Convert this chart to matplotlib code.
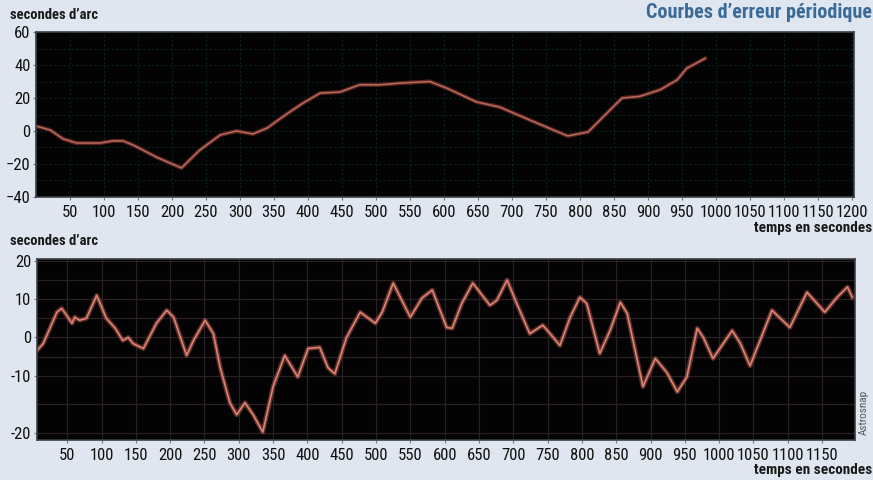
import numpy as np
import matplotlib
matplotlib.use("Agg")
import matplotlib.pyplot as plt
from matplotlib import font_manager as fm
from matplotlib.ticker import MultipleLocator

# top curve (seconds, arc seconds)
t1 = [0, 21, 40, 60, 94, 113, 128, 143, 178, 214, 241, 271, 295, 319, 340,
      354, 373, 393, 418, 447, 476, 506, 535, 579, 604, 648, 682, 726, 761,
      782, 812, 834, 862, 888, 918, 943, 957, 984]
e1 = [3, 0.6, -4.8, -7.3, -7.3, -6, -6, -8.5, -16, -22.4, -11.5, -2.4, 0,
      -1.8, 1.8, 6, 11.5, 17, 23, 23.6, 28, 28, 29, 30, 26, 17.6, 14.5, 6.7,
      0.6, -3, -0.6, 8.5, 20, 21, 25, 31, 38, 44]

# bottom curve
t2 = [6, 15, 35, 42, 49, 57, 61, 68, 78, 93, 107, 120, 131, 139, 146, 161,
      180, 195, 205, 224, 234, 251, 263, 273, 287, 297, 309, 321, 335, 350,
      367, 386, 401, 418, 430, 440, 457, 477, 499, 509, 525, 550, 567, 582,
      603, 611, 625, 641, 666, 676, 691, 705, 724, 743, 756, 768, 783, 797,
      807, 826, 841, 856, 866, 889, 907, 924, 939, 953, 968, 977, 991, 1019,
      1031, 1045, 1077, 1103, 1128, 1154, 1172, 1187, 1194]
e2 = [-3.4, -1.6, 6.6, 7.6, 5.8, 3.7, 5.3, 4.5, 5, 11, 5, 2.4, -0.8, 0,
      -1.6, -2.9, 3.7, 7.1, 5.3, -4.7, -0.8, 4.5, 1, -7.9, -14.7, -16.8,
      -14.7, -16.8, -19.8, -11.9, -4.7, -10.2, -2.9, -2.6, -7.9, -9.5, 0,
      6.6, 3.7, 6.6, 14.2, 5.3, 10.3, 12.4, 2.6, 2.4, 8.9, 14.2, 8.4, 9.7,
      15, 8.9, 1, 3.2, 0.5, -2.1, 5.3, 10.5, 8.9, -4.2, 1.8, 9.2, 6.3,
      -11.9, -5.5, -9.2, -12.8, -10.2, 2.4, 0, -5.5, 1.8, -1.6, -7.4, 7.1,
      2.6, 11.8, 6.6, 10.5, 13.2, 10.5]

xticks1 = list(range(50, 1201, 50))
yticks1 = [-40, -20, 0, 20, 40, 60]
xticks2 = list(range(50, 1151, 50))
yticks2 = [-20, -10, 0, 10, 20]

# look for a narrow font, the original uses a condensed face
fams = [(f.name, f.stretch) for f in fm.fontManager.ttflist]
family, stretch, scale = 'DejaVu Sans', 'normal', 0.72
for name in ['Liberation Sans Narrow', 'Roboto Condensed', 'Open Sans Condensed',
             'Noto Sans Condensed', 'DejaVu Sans Condensed']:
    if any(n == name for n, s in fams):
        family, scale = name, 1.0
        break
else:
    for name in ['Noto Sans', 'DejaVu Sans', 'Roboto', 'Open Sans']:
        if any(n == name and s in ('condensed', 'semi-condensed', 500, 300)
               for n, s in fams):
            family, stretch, scale = name, 'condensed', 0.92
            break

plt.rcParams['font.family'] = [family, 'DejaVu Sans']
plt.rcParams['font.stretch'] = stretch

bg = '#dfe6ef'
fig = plt.figure(figsize=(8.73, 4.8), dpi=100, facecolor=bg)

ax1 = fig.add_axes([0.0412, 0.5896, 0.9370, 0.3437])
ax2 = fig.add_axes([0.0424, 0.0833, 0.9370, 0.3771])


# the lower chart has a stretched scale below -10
def fwd(y):
    y = np.asarray(y, dtype=float)
    return np.where(y >= -10, y, -10 + (y + 10) * 1.5)


def inv(z):
    z = np.asarray(z, dtype=float)
    return np.where(z >= -10, z, -10 + (z + 10) / 1.5)


ax2.set_yscale('function', functions=(fwd, inv))

for ax in (ax1, ax2):
    ax.set_facecolor('#030303')
    for s in ax.spines.values():
        s.set_color('#3a4044')
        s.set_linewidth(1.2)
    ax.tick_params(length=2, color='#777777', labelsize=12 * scale,
                   labelcolor='#111111')
    ax.tick_params(axis='x', pad=4)
    ax.tick_params(axis='y', pad=2)

ax1.plot(t1, e1, color='#8c3830', lw=3.0, alpha=0.6, solid_joinstyle='round')
ax1.plot(t1, e1, color='#b86a5c', lw=1.1, solid_joinstyle='round')
ax1.set_xlim(0, 1203)
ax1.set_ylim(-40, 60)
ax1.set_xticks(xticks1)
ax1.set_yticks(yticks1)
ax1.yaxis.set_minor_locator(MultipleLocator(10))
ax1.tick_params(which='minor', length=0)
ax1.grid(True, which='both', color='#0b2222', lw=0.8, ls=(0, (2, 2)))
ax1.set_axisbelow(True)

ax2.plot(t2, e2, color='#a85248', lw=3.4, alpha=0.55, solid_joinstyle='round')
ax2.plot(t2, e2, color='#dc8474', lw=1.2, solid_joinstyle='round')
ax2.set_xlim(6, 1198)
ax2.set_ylim(-21.2, 20.5)
ax2.set_xticks(xticks2)
ax2.set_yticks(yticks2)
ax2.set_yticklabels([str(v) for v in yticks2])
ax2.yaxis.set_minor_locator(MultipleLocator(5))
ax2.tick_params(which='minor', length=0)
ax2.grid(True, which='both', color='#2a2024', lw=0.9)
ax2.set_axisbelow(True)

fig.text(10 / 873, 1 - 15 / 480, "secondes d\u2019arc", fontsize=10.5 * scale,
         fontweight='bold', color='#1a1a1a', ha='left', va='center')
fig.text(10 / 873, 1 - 241 / 480, "secondes d\u2019arc", fontsize=10.5 * scale,
         fontweight='bold', color='#1a1a1a', ha='left', va='center')
fig.text(872 / 873, 1 - 228 / 480, "temps en secondes", fontsize=11 * scale,
         fontweight='bold', color='#1a1a1a', ha='right', va='center')
fig.text(872 / 873, 1 - 470 / 480, "temps en secondes", fontsize=11 * scale,
         fontweight='bold', color='#1a1a1a', ha='right', va='center')
fig.text(872 / 873, 1 - 13 / 480, "Courbes d\u2019erreur p\u00e9riodique",
         fontsize=14.5 * scale, fontweight='bold', color='#3a6b98', ha='right',
         va='center')
fig.text(864 / 873, 1 - 412 / 480, "Astrosnap", fontsize=8 * scale,
         color='#555555', rotation=90, ha='center', va='center')

fig.savefig('out.png', dpi=100, facecolor=bg)
